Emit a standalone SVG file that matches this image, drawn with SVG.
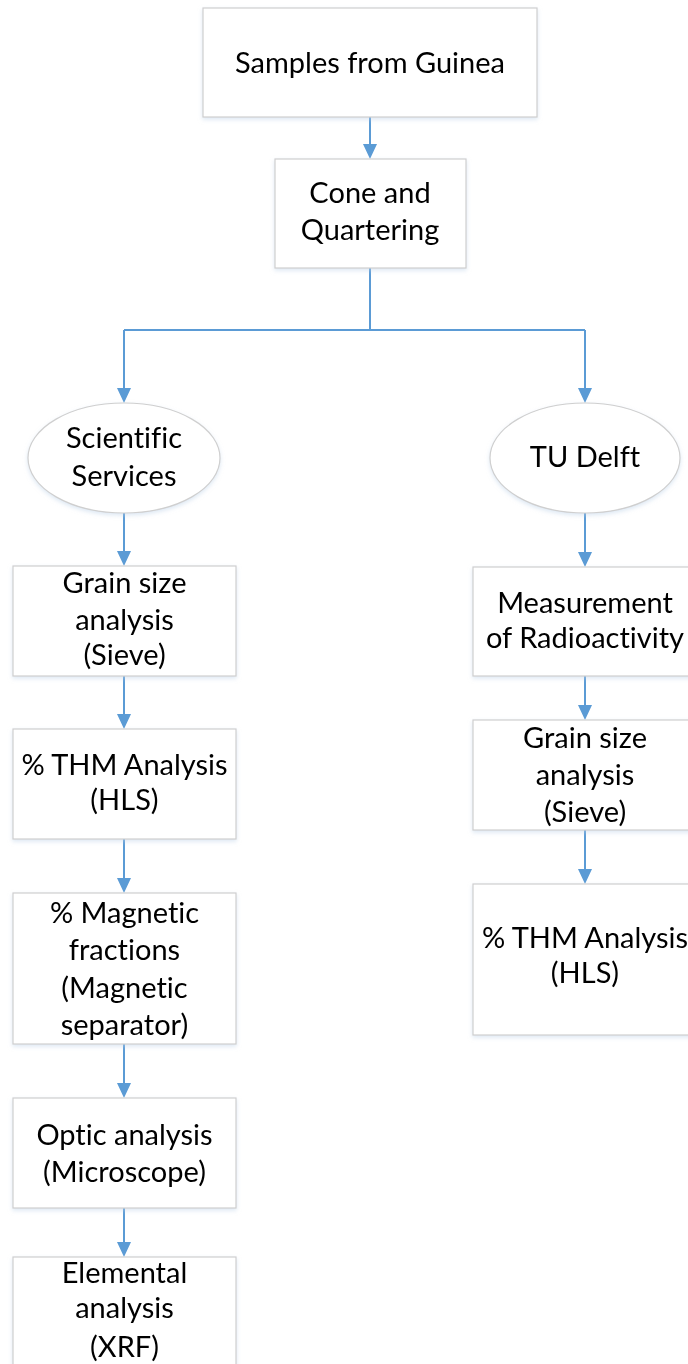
<svg xmlns="http://www.w3.org/2000/svg" width="688" height="1364" viewBox="0 0 688 1364">
<defs>
<style>
.box{fill:#ffffff;stroke:#cfcfcf;stroke-width:1.2}
.t{font-family:Lato,"Liberation Sans",sans-serif;font-size:29px;fill:#000;text-anchor:middle;font-variant-ligatures:none}
.c{fill:none;stroke:#5b9bd5;stroke-width:2}
.h{fill:#5b9bd5}
</style>
<filter id="sh" x="-10%" y="-10%" width="120%" height="130%">
<feDropShadow dx="0" dy="2" stdDeviation="2" flood-color="#bcd0e8" flood-opacity="0.5"/>
</filter>
</defs>
<rect width="688" height="1364" fill="#ffffff"/>
<g id="connectors">
<path class="c" d="M370 117 V145"/><polygon class="h" points="363,144 377,144 370,159"/>
<path class="c" d="M370 268 V330 M124 330 H585 M124 330 V389 M585 330 V389"/>
<polygon class="h" points="117,388 131,388 124,403"/>
<polygon class="h" points="578,388 592,388 585,403"/>
<path class="c" d="M124 513 V552"/><polygon class="h" points="117,551 131,551 124,566"/>
<path class="c" d="M124 676 V715"/><polygon class="h" points="117,714 131,714 124,729"/>
<path class="c" d="M124 839 V879"/><polygon class="h" points="117,878 131,878 124,893"/>
<path class="c" d="M124 1044 V1084"/><polygon class="h" points="117,1083 131,1083 124,1098"/>
<path class="c" d="M124 1208 V1243"/><polygon class="h" points="117,1242 131,1242 124,1257"/>
<path class="c" d="M585 513 V553"/><polygon class="h" points="578,552 592,552 585,567"/>
<path class="c" d="M585 676 V706"/><polygon class="h" points="578,705 592,705 585,720"/>
<path class="c" d="M585 830 V870"/><polygon class="h" points="578,869 592,869 585,884"/>
</g>
<g id="n1" filter="url(#sh)"><rect class="box" x="203" y="8" width="334" height="109"/><text class="t" x="370" y="73">Samples from Guinea</text></g>
<g id="n2" filter="url(#sh)"><rect class="box" x="275" y="159" width="191" height="109"/><text class="t" x="370" y="203">Cone and</text><text class="t" x="370" y="240">Quartering</text></g>
<g id="n3" filter="url(#sh)"><ellipse class="box" cx="124" cy="458" rx="96" ry="55"/><text class="t" x="124" y="448">Scientific</text><text class="t" x="124" y="486">Services</text></g>
<g id="n4" filter="url(#sh)"><ellipse class="box" cx="585" cy="458" rx="95" ry="55"/><text class="t" x="585" y="467">TU Delft</text></g>
<g id="n5" filter="url(#sh)"><rect class="box" x="13" y="566" width="223" height="110"/><text class="t" x="124.5" y="593">Grain size</text><text class="t" x="124.5" y="630">analysis</text><text class="t" x="124.5" y="665">(Sieve)</text></g>
<g id="n6" filter="url(#sh)"><rect class="box" x="13" y="729" width="223" height="110"/><text class="t" x="124.5" y="775">% THM Analysis</text><text class="t" x="124.5" y="810">(HLS)</text></g>
<g id="n7" filter="url(#sh)"><rect class="box" x="13" y="893" width="223" height="151"/><text class="t" x="124.5" y="923">% Magnetic</text><text class="t" x="124.5" y="960">fractions</text><text class="t" x="124.5" y="998">(Magnetic</text><text class="t" x="124.5" y="1035">separator)</text></g>
<g id="n8" filter="url(#sh)"><rect class="box" x="13" y="1098" width="223" height="110"/><text class="t" x="124.5" y="1145">Optic analysis</text><text class="t" x="124.5" y="1182">(Microscope)</text></g>
<g id="n9" filter="url(#sh)"><rect class="box" x="13" y="1257" width="223" height="120"/><text class="t" x="124.5" y="1283">Elemental</text><text class="t" x="124.5" y="1318">analysis</text><text class="t" x="124.5" y="1357">(XRF)</text></g>
<g id="n10" filter="url(#sh)"><rect class="box" x="473" y="567" width="224" height="109"/><text class="t" x="585" y="613">Measurement</text><text class="t" x="585" y="648">of Radioactivity</text></g>
<g id="n11" filter="url(#sh)"><rect class="box" x="473" y="720" width="224" height="110"/><text class="t" x="585" y="748">Grain size</text><text class="t" x="585" y="785">analysis</text><text class="t" x="585" y="822">(Sieve)</text></g>
<g id="n12" filter="url(#sh)"><rect class="box" x="473" y="884" width="224" height="151"/><text class="t" x="585" y="948">% THM Analysis</text><text class="t" x="585" y="983">(HLS)</text></g>
</svg>
